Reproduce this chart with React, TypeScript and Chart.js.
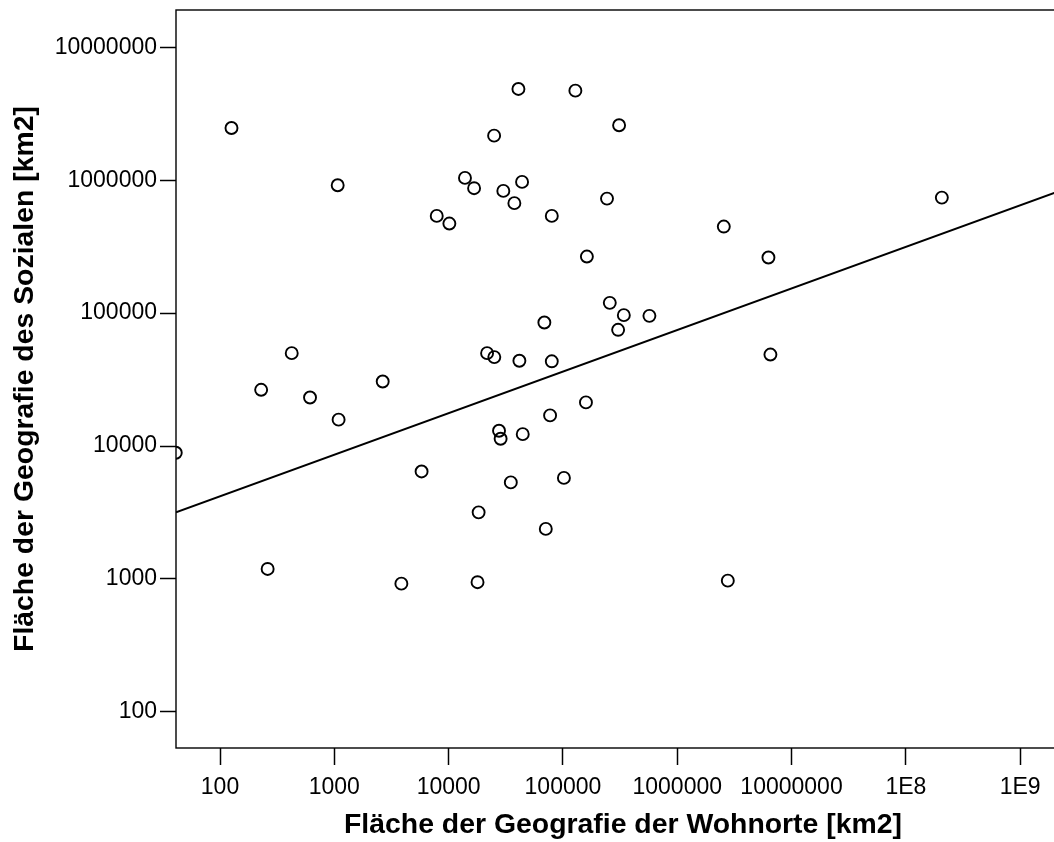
import React, { useEffect, useRef } from "react";
import { Chart, registerables } from "chart.js";

Chart.register(...registerables);

// Fläche der Geografie der Wohnorte [km2]
const areaWohnorte = [
  126, 1070, 229, 424, 613, 1090, 2650, 41, 261, 3860,
  5800, 7870, 10150, 13900, 16700, 17900, 18300, 21700, 25100, 25000,
  27600, 28500, 30100, 35000, 37600, 40800, 41600, 43900, 44500, 68800,
  70800, 77200, 79900, 79900, 102000, 128500, 159000, 162000, 243000, 257000,
  304000, 310000, 341000, 571000, 2555000, 2770000, 6280000, 6535000, 206500000,
];

// Fläche der Geografie des Sozialen [km2]
const areaSozialen = [
  2470000, 916000, 26500, 50000, 23200, 15800, 30600, 8900, 1190, 922,
  6440, 539000, 472000, 1041000, 871000, 946, 3170, 50000, 46700, 2164000,
  13030, 11350, 831000, 5330, 672000, 4860000, 43800, 971000, 12290, 85000,
  2380, 17000, 539000, 43400, 5760, 4720000, 21300, 266500, 727000, 119500,
  74900, 2590000, 96600, 95400, 448000, 971, 262000, 48800, 740000,
];

// Linear fit line (log-log) endpoints
const fitLineX = [41.2, 2.73e9];
const fitLineY = [3180, 887000];

const xTickValues = [1e2, 1e3, 1e4, 1e5, 1e6, 1e7, 1e8, 1e9];
const xTickLabels = ["100", "1000", "10000", "100000", "1000000", "10000000", "1E8", "1E9"];
const yTickValues = [1e2, 1e3, 1e4, 1e5, 1e6, 1e7];
const yTickLabels = ["100", "1000", "10000", "100000", "1000000", "10000000"];

const xMin = 41.2;
const xMax = 2.73e9;
const yMin = 53.5;
const yMax = 1.908e7;

const xAxisTitle = "Fläche der Geografie der Wohnorte [km2]";
const yAxisTitle = "Fläche der Geografie des Sozialen [km2]";

const FONT = "'Liberation Sans', Arial, Helvetica, sans-serif";

const framePlugin = {
  id: "frame",
  afterDraw(chart: any) {
    const { ctx, chartArea } = chart;
    const { left, top, right, bottom } = chartArea;
    ctx.save();
    ctx.strokeStyle = "#000";
    ctx.lineWidth = 1.4;
    ctx.strokeRect(left, top, right - left, bottom - top);
    ctx.restore();
  },
};

export default function App() {
  const canvasRef = useRef<HTMLCanvasElement | null>(null);

  useEffect(() => {
    if (!canvasRef.current) return;
    const points = areaWohnorte.map((x, i) => ({ x, y: areaSozialen[i] }));
    const fit = fitLineX.map((x, i) => ({ x, y: fitLineY[i] }));

    const zeroPad = (scale: any) => {
      scale.paddingLeft = 0;
      scale.paddingRight = 0;
      scale.paddingTop = 0;
      scale.paddingBottom = 0;
    };

    const chart = new Chart(canvasRef.current, {
      type: "scatter",
      data: {
        datasets: [
          {
            type: "scatter",
            data: points,
            pointStyle: "circle",
            pointRadius: 6,
            pointHoverRadius: 6,
            pointBorderWidth: 1.9,
            pointBorderColor: "#000",
            pointBackgroundColor: "rgba(0,0,0,0)",
            borderColor: "#000",
            backgroundColor: "rgba(0,0,0,0)",
            clip: 0,
          } as any,
          {
            type: "line",
            data: fit,
            borderColor: "#000",
            borderWidth: 2,
            pointRadius: 0,
            fill: false,
            tension: 0,
            clip: 0,
          } as any,
        ],
      },
      options: {
        animation: false,
        responsive: false,
        devicePixelRatio: 1,
        layout: { autoPadding: false, padding: { top: 10, left: 0, right: 0, bottom: 0 } },
        plugins: {
          legend: { display: false },
          tooltip: { enabled: false },
        },
        scales: {
          x: {
            type: "logarithmic",
            position: "bottom",
            bounds: "data",
            min: xMin,
            max: xMax,
            afterBuildTicks: (scale: any) => {
              scale.ticks = xTickValues.map((v) => ({ value: v }));
            },
            afterFit: (scale: any) => {
              scale.height = 94;
              zeroPad(scale);
            },
            ticks: {
              autoSkip: false,
              maxRotation: 0,
              minRotation: 0,
              padding: 8.5,
              color: "#000",
              font: { family: FONT, size: 23 },
              callback: (_v: any, i: number) => xTickLabels[i],
            },
            grid: {
              display: true,
              drawOnChartArea: false,
              drawTicks: true,
              tickLength: 17,
              tickWidth: 1.5,
              tickColor: "#000",
              color: "#000",
            },
            border: { display: false },
            title: {
              display: true,
              text: xAxisTitle,
              color: "#000",
              font: { family: FONT, size: 28.4, weight: "bold" },
              padding: { top: 0, bottom: 0 },
            },
          },
          y: {
            type: "logarithmic",
            position: "left",
            bounds: "data",
            min: yMin,
            max: yMax,
            afterBuildTicks: (scale: any) => {
              scale.ticks = yTickValues.map((v) => ({ value: v }));
            },
            afterFit: (scale: any) => {
              scale.width = 176;
              zeroPad(scale);
            },
            ticks: {
              autoSkip: false,
              padding: 3,
              color: "#000",
              font: { family: FONT, size: 23 },
              callback: (_v: any, i: number) => yTickLabels[i],
            },
            grid: {
              display: true,
              drawOnChartArea: false,
              drawTicks: true,
              tickLength: 16,
              tickWidth: 1.5,
              tickColor: "#000",
              color: "#000",
            },
            border: { display: false },
            title: {
              display: true,
              text: yAxisTitle,
              color: "#000",
              font: { family: FONT, size: 28.4, weight: "bold" },
              padding: { top: 8.2, bottom: 0 },
            },
          },
        },
      } as any,
      plugins: [framePlugin],
    });

    return () => chart.destroy();
  }, []);

  return (
    <div
      style={{
        position: "absolute",
        left: 0,
        top: 0,
        width: 1054,
        height: 842,
        overflow: "hidden",
        background: "#fff",
      }}
    >
      <canvas ref={canvasRef} width={1070} height={842} style={{ display: "block" }} />
    </div>
  );
}
